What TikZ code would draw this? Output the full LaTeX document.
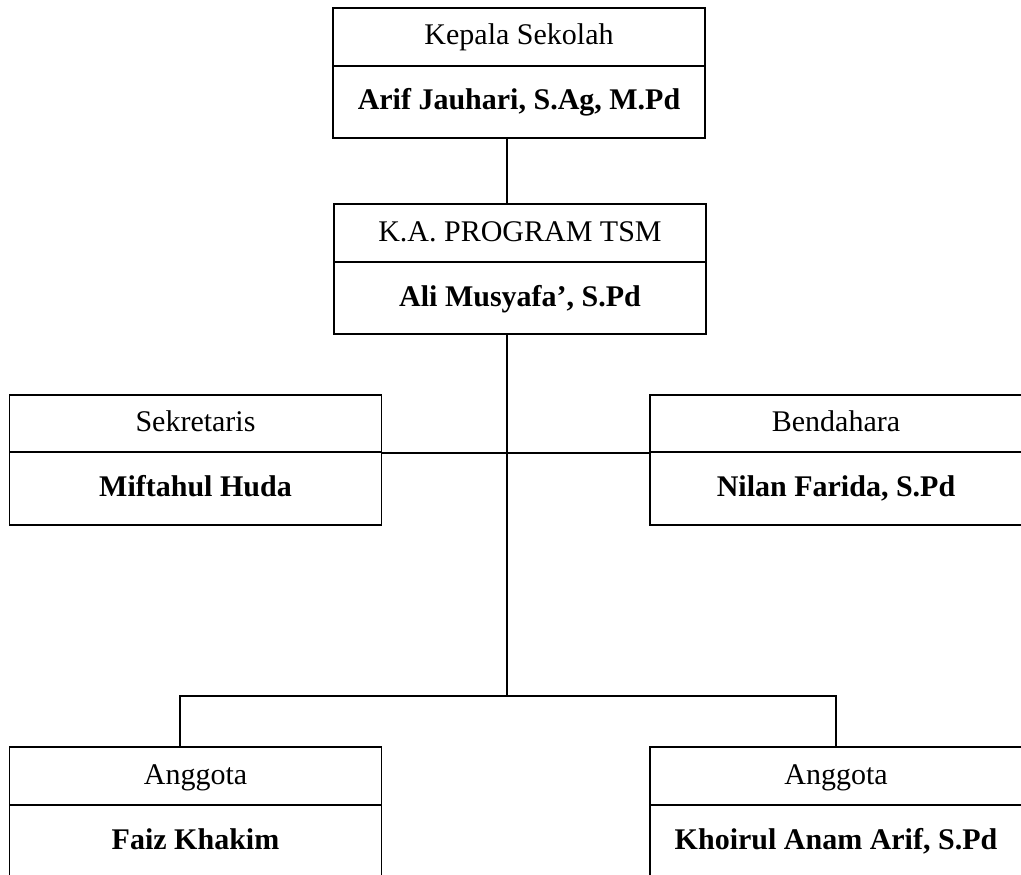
\documentclass[tikz,border=0pt]{standalone}
\usepackage{fontspec}
\setmainfont{Liberation Serif}
\begin{document}
\begin{tikzpicture}[x=1pt,y=-1pt,
  part/.style={draw=black, line width=1.5pt, inner sep=0pt, minimum width=372pt,
    text height=20pt, text depth=4pt, font=\fontsize{30}{36}\selectfont},
  titlepart/.style={part, minimum height=58pt},
  namepart/.style={part, minimum height=72pt, font=\fontsize{30}{36}\selectfont\bfseries},
  link/.style={draw=black, line width=1.5pt}]
\useasboundingbox (0,0) rectangle (1021,875);
\fill[white] (0,0) rectangle (1021,875);
% Kepala Sekolah
\node[titlepart] (kt) at (519,37) {Kepala Sekolah};
\node[namepart]  (kn) at (519,102) {Arif Jauhari, S.Ag, M.Pd};
% K.A. Program
\node[titlepart] (pt) at (520,233) {K.A. PROGRAM TSM};
\node[namepart]  (pn) at (520,298) {Ali Musyafa', S.Pd};
% Sekretaris
\node[titlepart, minimum height=57pt] (st) at (195.5,423.5) {Sekretaris};
\node[namepart, minimum height=73pt]  (sn) at (195.5,488.5) {Miftahul Huda};
% Bendahara
\node[titlepart, minimum height=57pt] (bt) at (836,423.5) {Bendahara};
\node[namepart, minimum height=73pt]  (bn) at (836,488.5) {Nilan Farida, S.Pd};
% Anggota
\node[titlepart] (at1) at (195.5,776) {Anggota};
\node[namepart]  (an1) at (195.5,841) {Faiz Khakim};
\node[titlepart] (at2) at (836,776) {Anggota};
\node[namepart]  (an2) at (836,841) {Khoirul Anam Arif, S.Pd};
% connectors
\coordinate (vx) at (507,0);
\coordinate (jb) at (507,696);
\coordinate (bl) at (180,696);
\coordinate (br) at (836,696);
\draw[link] (kn.south -| vx) -- (pt.north -| vx);
\draw[link] (pn.south -| vx) -- (jb);
\draw[link] (st.south east) -- (bt.south west);
\draw[link] (at1.north -| bl) -- (bl) -- (br) -- (at2.north -| br);
\end{tikzpicture}
\end{document}
